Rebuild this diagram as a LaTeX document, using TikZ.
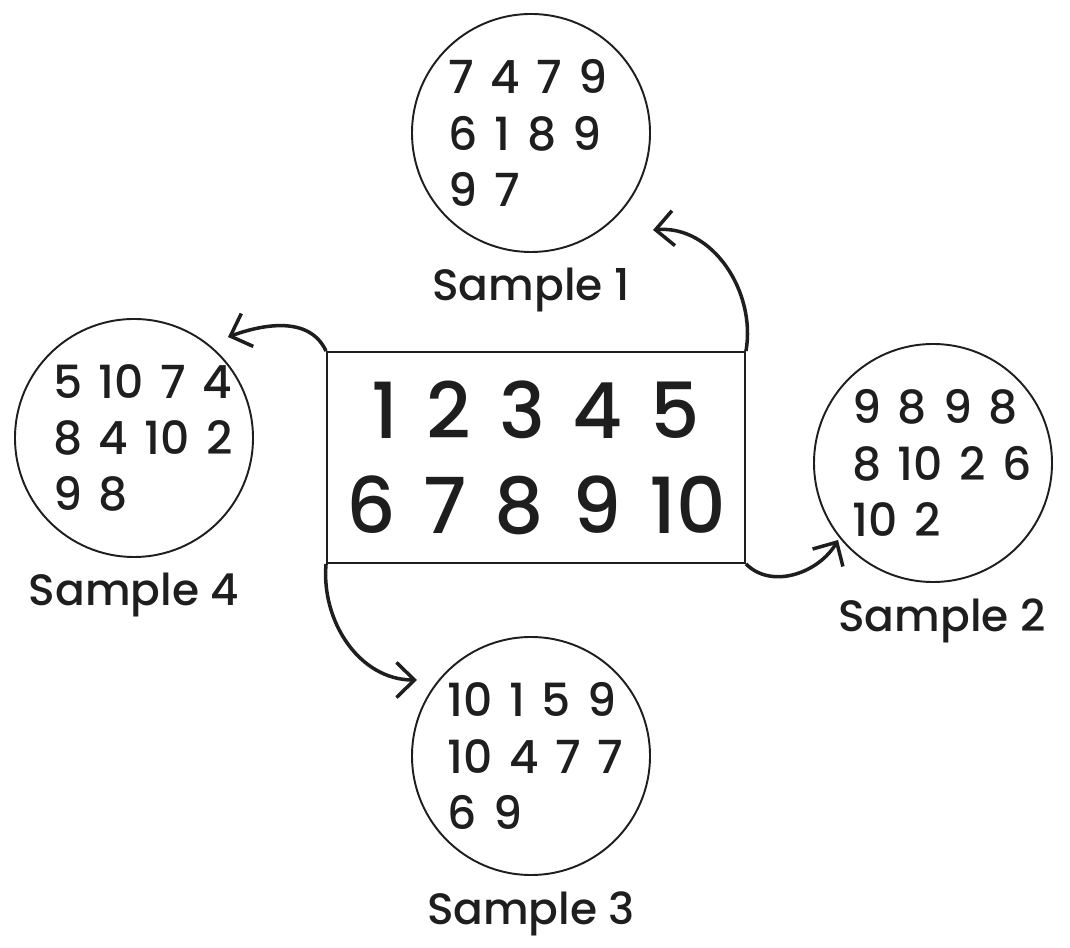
\documentclass[tikz,border=0pt]{standalone}
\usepackage{fontspec}
\setmainfont{Poppins}[UprightFont=*-Medium]
\usetikzlibrary{arrows.meta, positioning}
\definecolor{inkgray}{HTML}{1E1E1E}
\newcommand{\widespace}{\spaceskip=0.36em\relax}

\begin{document}
\begin{tikzpicture}[
    node distance=0.3cm,
    pool/.style={rectangle, draw=inkgray, line width=1.1pt, minimum width=8.36cm, minimum height=4.22cm, align=center, text=inkgray, font=\fontsize{44}{54}\selectfont\widespace},
    sample/.style={circle, draw=inkgray, line width=1.1pt, minimum size=4.76cm, inner sep=0pt},
    digits/.style={anchor=west, align=left, inner sep=0pt, text=inkgray, font=\fontsize{26}{32}\selectfont\widespace},
    samplelabel/.style={inner sep=0pt, text=inkgray, font=\fontsize{25}{28}\selectfont},
    arrow/.style={-{Straight Barb[length=3.6mm, width=7mm]}, line width=2pt, draw=inkgray}
]
\useasboundingbox (0,0) rectangle (21.4,18.94);

% population
\node[pool] (pool) at (10.72,9.79) {1 2 3 4 5\\6 7 8 9 10};

% samples
\node[sample] (s1) at (10.62,16.28) {};
\node[sample] (s2) at (18.66,9.68) {};
\node[sample] (s3) at (10.62,3.82) {};
\node[sample] (s4) at (2.68,10.18) {};

\node[digits] (d1) at ([xshift=-1.65cm]s1.center) {7 4 7 9\\6 1 8 9\\9 7};
\node[digits] (d2) at ([xshift=-1.62cm]s2.center) {9 8 9 8\\8 10 2 6\\10 2};
\node[digits] (d3) at ([xshift=-1.68cm]s3.center) {10 1 5 9\\10 4 7 7\\6 9};
\node[digits] (d4) at ([xshift=-1.62cm]s4.center) {5 10 7 4\\8 4 10 2\\9 8};

\node[samplelabel, below=of s1] (l1) {Sample 1};
\node[samplelabel, below=of s2, xshift=0.18cm] (l2) {Sample 2};
\node[samplelabel, below=of s3] (l3) {Sample 3};
\node[samplelabel, below=of s4] (l4) {Sample 4};

% arrows
\coordinate (tip1) at (13.06,14.34);
\coordinate (tip2) at (16.76,8.14);
\coordinate (tip3) at (8.34,5.34);
\coordinate (tip4) at (4.56,12.2);
\draw[arrow] (pool.north east) to[out=80, in=5] (tip1);
\draw[arrow] (pool.south east) to[out=-45, in=-120] (tip2);
\draw[arrow] (pool.south west) to[out=-95, in=180] (tip3);
\draw[arrow] (pool.north west) to[out=115, in=20] (tip4);
\end{tikzpicture}
\end{document}
